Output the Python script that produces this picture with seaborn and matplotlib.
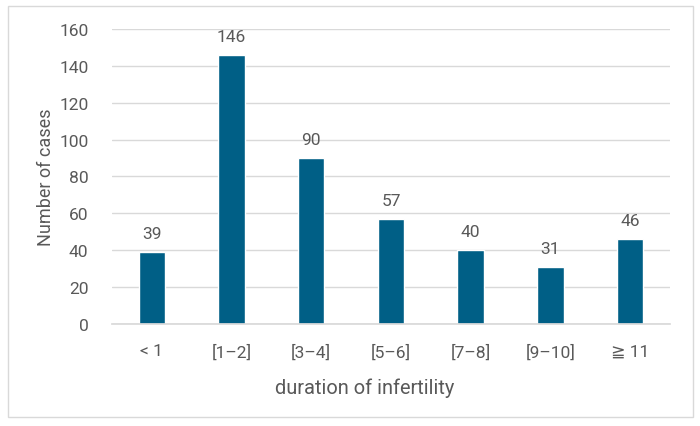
import matplotlib
matplotlib.use("Agg")
import matplotlib.pyplot as plt
import seaborn as sns
import pandas as pd
from matplotlib.patches import Rectangle

categories = ["< 1", "[1–2]", "[3–4]", "[5–6]", "[7–8]", "[9–10]", "≧ 11"]
cases = [39, 146, 90, 57, 40, 31, 46]
yticks = [0, 20, 40, 60, 80, 100, 120, 140, 160]

sns.set_theme(style="white")
plt.rcParams['font.family'] = ['Roboto', 'DejaVu Sans', 'Noto Sans CJK JP']

df = pd.DataFrame({"cat": categories, "n": cases})

fig = plt.figure(figsize=(7, 4.27), dpi=100)
ax = fig.add_axes([0.16, 0.239, 0.797, 0.691])
sns.barplot(data=df, x="cat", y="n", color="#005F86", saturation=1, width=0.33, ax=ax)

txt = "#595959"
ax.set_ylim(0, 160)
ax.set_yticks(yticks)
ax.set_xlim(-0.5, len(categories) - 0.5)
ax.yaxis.grid(True, color="#D9D9D9", linewidth=1)
ax.set_axisbelow(True)
for s in ["top", "right", "left"]:
    ax.spines[s].set_visible(False)
ax.spines["bottom"].set_color("#D9D9D9")
ax.tick_params(axis="both", length=0, colors=txt, labelsize=12.5)
ax.tick_params(axis="x", pad=14)
ax.tick_params(axis="y", pad=17)
ax.set_xlabel("duration of infertility", color=txt, fontsize=14.4, va="center")
ax.xaxis.set_label_coords(0.453, -0.214)
ax.set_ylabel("Number of cases", color=txt, fontsize=13, va="center")
ax.yaxis.set_label_coords(-0.119, 0.5)

for c in ax.containers:
    ax.bar_label(c, labels=[str(v) for v in cases], padding=8, color=txt, fontsize=12.5)

fig.patches.append(Rectangle((8 / 700, 1 - 418 / 427), 685 / 700, 411 / 427,
                             transform=fig.transFigure, fill=False,
                             edgecolor="#D9D9D9", linewidth=1))
fig.savefig("out.png", dpi=100)
